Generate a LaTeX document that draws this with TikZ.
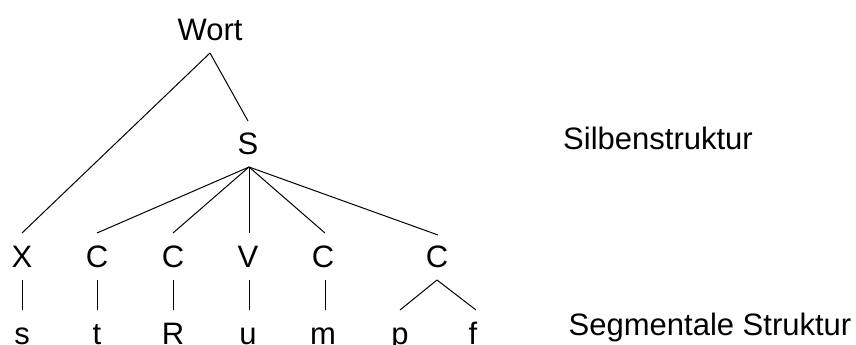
\documentclass[tikz,border=0pt]{standalone}
\usepackage{fontspec}
\setmainfont{Liberation Sans}
\begin{document}
\begin{tikzpicture}[x=1pt,y=-1pt,
  lbl/.style={anchor=base,inner sep=0pt,font=\fontsize{31}{31}\selectfont},
  edge/.style={line width=1pt}]
\useasboundingbox (0,0) rectangle (856,345);
% labels
\node[lbl] (wort) at (210,41) {Wort};
\node[lbl] (S) at (248,154) {S};
\node[lbl] (x1) at (22,267) {X};
\node[lbl] (c1) at (97,267) {C};
\node[lbl] (c2) at (173,267) {C};
\node[lbl] (v1) at (248,267) {V};
\node[lbl] (c3) at (323,267) {C};
\node[lbl] (c4) at (437,267) {C};
\node[lbl] (s1) at (22,344.5) {s};
\node[lbl] (t1) at (97,344.5) {t};
\node[lbl] (r1) at (173,344.5) {R};
\node[lbl] (u1) at (248,344.5) {u};
\node[lbl] (m1) at (323,344.5) {m};
\node[lbl] (p1) at (400,344.5) {p};
\node[lbl] (f1) at (473,344.5) {f};
\node[lbl] (silb) at (658,149) {Silbenstruktur};
\node[lbl] (segm) at (710,335) {Segmentale Struktur};
% attachment points
\coordinate (wortB) at (210,53);
\coordinate (ST) at (248,121);
\coordinate (SB) at (249,167);
\coordinate (x1T) at (22,233);
\coordinate (c1T) at (97,233);
\coordinate (c2T) at (173,233);
\coordinate (v1T) at (249,233);
\coordinate (c3T) at (325,233);
\coordinate (c4T) at (438,235);
\coordinate (x1B) at (22,280);
\coordinate (c1B) at (97,280);
\coordinate (c2B) at (173,280);
\coordinate (v1B) at (249,280);
\coordinate (c3B) at (325,280);
\coordinate (c4B) at (437,280);
\coordinate (s1T) at (22,310);
\coordinate (t1T) at (97,310);
\coordinate (r1T) at (173,310);
\coordinate (u1T) at (249,310);
\coordinate (m1T) at (325,310);
\coordinate (p1T) at (400,310);
\coordinate (f1T) at (476,310);
% connectors
\draw[edge] (wortB) -- (x1T);
\draw[edge] (wortB) -- (ST);
\foreach \t in {c1T,c2T,v1T,c3T,c4T} \draw[edge] (SB) -- (\t);
\draw[edge] (x1B) -- (s1T);
\draw[edge] (c1B) -- (t1T);
\draw[edge] (c2B) -- (r1T);
\draw[edge] (v1B) -- (u1T);
\draw[edge] (c3B) -- (m1T);
\draw[edge] (c4B) -- (p1T);
\draw[edge] (c4B) -- (f1T);
\end{tikzpicture}
\end{document}
